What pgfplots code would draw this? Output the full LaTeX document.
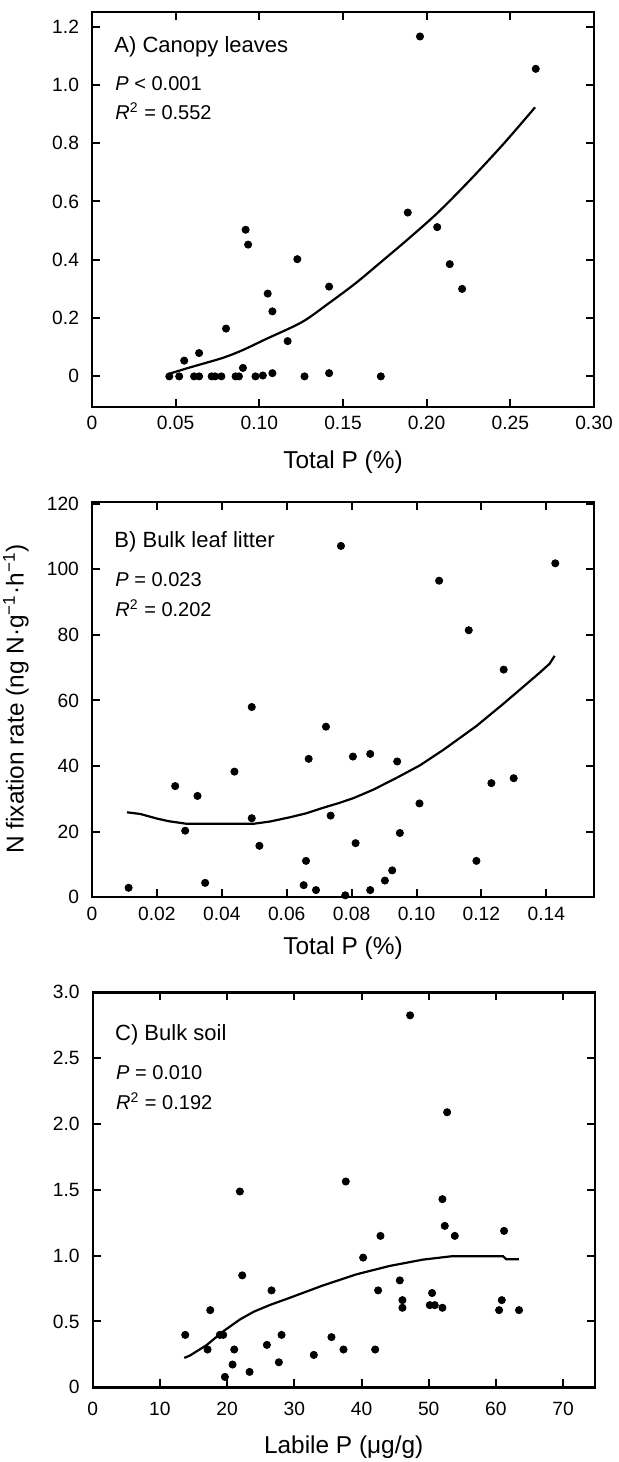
\documentclass[border=0pt]{standalone}
\usepackage{fontspec}
\setmainfont{Liberation Sans}
\usepackage{pgfplots}
\pgfplotsset{compat=1.18}
\begin{document}
\begin{tikzpicture}
\useasboundingbox (0,0) rectangle (309pt,731pt);
\tikzset{
 ptitle/.style={anchor=base west, inner sep=0pt, font=\fontsize{11}{13}\selectfont},
 pstat/.style={anchor=base west, inner sep=0pt, font=\fontsize{10}{12}\selectfont},
}
\pgfplotsset{
 panel/.style={scale only axis, width=251pt, height=197.5pt,
   axis line style={line width=1.2pt},
   tick style={line width=1pt, black}, tick align=inside, major tick length=4pt,
   xtick pos=both, ytick pos=both,
   ticklabel style={font=\fontsize{9.6}{11}\selectfont},
   /pgf/number format/assume math mode=true,
   xticklabel style={anchor=base, yshift=-11.5pt},
   yticklabel style={anchor=east, xshift=-3pt},
   label style={font=\fontsize{12.2}{14}\selectfont},
   xlabel style={anchor=base, at={(axis description cs:0.5,0)}, yshift=-31pt},
   clip=false},
 dots/.style={only marks, mark=*, mark size=1.8pt, black},
 fitline/.style={black, line width=1.1pt, no marks},
}
% ---------------- Panel A
\begin{axis}[panel, at={(46pt,527.5pt)}, anchor=south west,
  xmin=0, xmax=0.30, ymin=-0.105, ymax=1.25,
  xtick={0,0.05,0.10,0.15,0.20,0.25,0.30}, xticklabels={0,0.05,0.10,0.15,0.20,0.25,0.30},
  ytick={0,0.2,0.4,0.6,0.8,1.0,1.2}, yticklabels={0,0.2,0.4,0.6,0.8,1.0,1.2},
  xlabel={Total P (\%)}]
\addplot[fitline, smooth] coordinates {(0.0462,0.009) (0.0581,0.030) (0.0779,0.063) (0.0900,0.090) (0.1036,0.127) (0.1254,0.186) (0.1413,0.250) (0.1572,0.318) (0.1710,0.384) (0.1889,0.471) (0.2067,0.562) (0.2265,0.677) (0.2463,0.800) (0.2648,0.923)};
\addplot[dots] coordinates {(0.0462,0) (0.0521,0) (0.0551,0.054) (0.0610,0) (0.0640,0) (0.0640,0.080) (0.0715,0) (0.0735,0) (0.0773,0) (0.0801,0.164) (0.0858,0) (0.0878,0) (0.0902,0.029) (0.0918,0.503) (0.0933,0.452) (0.0977,0) (0.1021,0.003) (0.1050,0.284) (0.1078,0.011) (0.1078,0.223) (0.1169,0.121) (0.1227,0.402) (0.1270,0) (0.1417,0.011) (0.1417,0.308) (0.1726,0) (0.1887,0.562) (0.1960,1.166) (0.2063,0.512) (0.2138,0.385) (0.2212,0.300) (0.2652,1.055)};
\node[ptitle] at (rel axis cs:0.044,0.897) {A) Canopy leaves};
\node[pstat] at (rel axis cs:0.046,0.802) {\textit{P} < 0.001};
\node[pstat] at (rel axis cs:0.046,0.727) {\textit{R}\textsuperscript{2} = 0.552};
\end{axis}
% ---------------- Panel B
\begin{axis}[panel, at={(46pt,282.35pt)}, anchor=south west,
  xmin=0, xmax=0.1547, ymin=0, ymax=120.4,
  xtick={0,0.02,0.04,0.06,0.08,0.10,0.12,0.14}, xticklabels={0,0.02,0.04,0.06,0.08,0.10,0.12,0.14},
  ytick={0,20,40,60,80,100,120},
  xlabel={Total P (\%)}, xlabel style={yshift=2.5pt}]
\addplot[fitline] coordinates {(0.01077,25.9) (0.01487,25.4) (0.02000,24.0) (0.02359,23.2) (0.02923,22.4) (0.04974,22.4) (0.05487,23.1) (0.06103,24.4) (0.06600,25.6) (0.07128,27.3) (0.07600,28.7) (0.08051,30.2) (0.08667,32.8) (0.09385,36.4) (0.10103,40.2) (0.10821,44.9) (0.11300,48.3) (0.11846,52.2) (0.12667,58.9) (0.13282,64.1) (0.13800,68.5) (0.14103,71.2) (0.14256,73.6)};
\addplot[dots] coordinates {(0.02564,33.9) (0.03251,30.9) (0.02872,20.3) (0.04390,38.3) (0.04923,58.0) (0.04923,24.1) (0.05159,15.7) (0.06677,42.2) (0.07210,52.0) (0.07354,24.9) (0.07672,107.1) (0.08041,42.9) (0.08574,43.7) (0.08123,16.5) (0.09405,41.4) (0.09487,19.6) (0.10092,28.6) (0.10697,96.5) (0.11610,81.4) (0.12308,34.8) (0.12687,69.4) (0.12995,36.3) (0.14277,101.8) (0.01128,2.9) (0.03487,4.4) (0.06595,11.1) (0.06523,3.7) (0.06903,2.2) (0.07805,0.6) (0.08574,2.2) (0.09026,5.1) (0.09251,8.2) (0.11846,11.1)};
\node[ptitle] at (rel axis cs:0.044,0.885) {B) Bulk leaf litter};
\node[pstat] at (rel axis cs:0.046,0.787) {\textit{P} = 0.023};
\node[pstat] at (rel axis cs:0.046,0.711) {\textit{R}\textsuperscript{2} = 0.202};
\end{axis}
% ---------------- Panel C
\begin{axis}[panel, at={(46.35pt,37.35pt)}, anchor=south west,
  xmin=0, xmax=74.7, ymin=0, ymax=3.0,
  xtick={0,10,20,30,40,50,60,70},
  ytick={0,0.5,1.0,1.5,2.0,2.5,3.0}, yticklabels={0,0.5,1.0,1.5,2.0,2.5,3.0},
  xticklabel style={yshift=-2.5pt},
  xlabel={Labile P (μg/g)}, xlabel style={yshift=-2.3pt}]
\addplot[fitline] coordinates {(13.62,0.223) (14.46,0.241) (16.94,0.320) (19.42,0.425) (21.90,0.515) (24.00,0.575) (26.36,0.625) (29.33,0.680) (34.29,0.774) (39.25,0.858) (44.21,0.922) (49.17,0.970) (53.38,0.995) (61.07,0.995) (61.56,0.972) (63.40,0.972)};
\addplot[dots] coordinates {(47.23,2.825) (52.74,2.089) (37.66,1.563) (21.90,1.487) (52.04,1.429) (52.39,1.226) (53.88,1.150) (42.82,1.150) (61.21,1.188) (40.24,0.985) (22.25,0.850) (26.61,0.736) (42.47,0.736) (45.70,0.812) (46.09,0.662) (46.09,0.604) (50.50,0.716) (50.16,0.624) (50.90,0.624) (52.04,0.604) (60.87,0.662) (60.47,0.586) (63.44,0.586) (17.49,0.586) (13.77,0.398) (18.92,0.398) (19.42,0.398) (17.09,0.287) (21.06,0.287) (25.92,0.322) (28.10,0.398) (35.53,0.381) (37.32,0.287) (42.03,0.287) (32.90,0.246) (27.70,0.190) (20.81,0.173) (23.34,0.117) (19.67,0.079)};
\node[ptitle] at (rel axis cs:0.044,0.878) {C) Bulk soil};
\node[pstat] at (rel axis cs:0.046,0.779) {\textit{P} = 0.010};
\node[pstat] at (rel axis cs:0.046,0.703) {\textit{R}\textsuperscript{2} = 0.192};
\end{axis}
\node[rotate=90, font=\fontsize{12.2}{14}\selectfont] at (8pt,381.5pt) {N fixation rate (ng N·g\textsuperscript{−1}·h\textsuperscript{−1})};
\end{tikzpicture}
\end{document}
